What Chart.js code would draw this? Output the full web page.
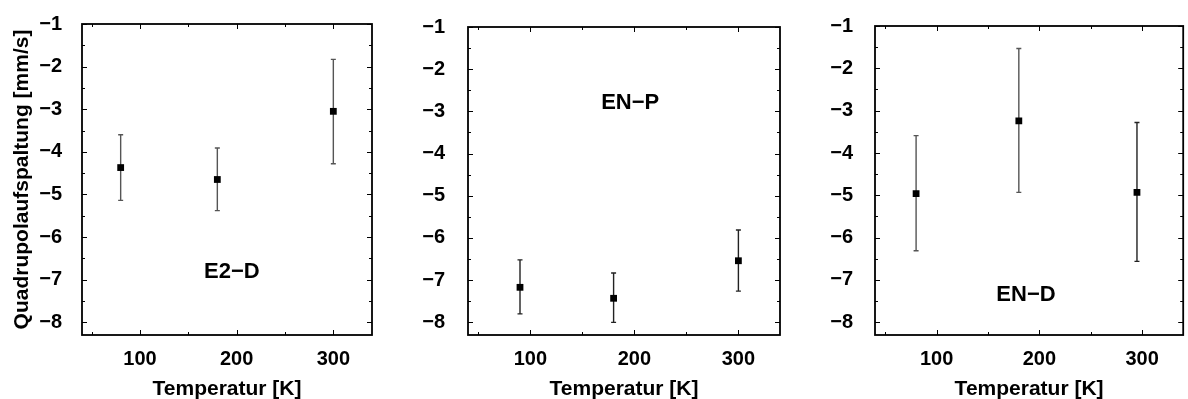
<!DOCTYPE html>
<html>
<head>
<meta charset="utf-8">
<title>Quadrupolaufspaltung</title>
<script src="https://cdn.jsdelivr.net/npm/chart.js@4.4.0/dist/chart.umd.min.js"></script>
<style>
  body { margin: 0; background: #fff; width: 1188px; height: 399px; position: relative; overflow: hidden; }
  .panel { position: absolute; top: 0; height: 399px; }
</style>
</head>
<body>
<div class="panel" style="left:0;width:380px"><canvas id="c1"></canvas></div>
<div class="panel" style="left:390px;width:398px"><canvas id="c2"></canvas></div>
<div class="panel" style="left:790px;width:398px"><canvas id="c3"></canvas></div>

<script>
// --- data (T in K, quadrupole splitting in mm/s)
const tempE2D  = [80, 180, 300];
const qsE2D    = [-4.37, -4.65, -3.05];
const hiE2D    = [-3.60, -3.91, -1.83];
const loE2D    = [-5.14, -5.38, -4.28];

const tempENP  = [90, 180, 300];
const qsENP    = [-7.17, -7.43, -6.54];
const hiENP    = [-6.52, -6.83, -5.81];
const loENP    = [-7.80, -8.00, -7.26];

const tempEND  = [80, 180, 295];
const qsEND    = [-4.96, -3.24, -4.93];
const hiEND    = [-3.59, -1.53, -3.28];
const loEND    = [-6.31, -4.93, -6.56];

const xTicks   = [100, 200, 300];
const xMinor   = [50, 150, 250];
const yTicks   = [-8, -7, -6, -5, -4, -3, -2, -1];
const yMinor   = [-7.5, -6.5, -5.5, -4.5, -3.5, -2.5, -1.5];

const FONT = '"Liberation Sans", Arial, Helvetica, sans-serif';

// frame, inward ticks, error bars and the sample label
const framePlugin = {
  id: 'frame',
  beforeDatasetsDraw(chart, args, o) {
    const ctx = chart.ctx, xs = chart.scales.x, ys = chart.scales.y;
    ctx.save();
    ctx.lineWidth = 1.4;
    o.x.forEach((xv, i) => {
      const px = xs.getPixelForValue(xv);
      const top = ys.getPixelForValue(o.hi[i]);
      const bot = ys.getPixelForValue(o.lo[i]);
      ctx.strokeStyle = o.errColor[i];
      ctx.beginPath();
      ctx.moveTo(px, top); ctx.lineTo(px, bot);
      ctx.moveTo(px - 2.5, top); ctx.lineTo(px + 2.5, top);
      ctx.moveTo(px - 2.5, bot); ctx.lineTo(px + 2.5, bot);
      ctx.stroke();
    });
    ctx.restore();
  },
  afterDatasetsDraw(chart, args, o) {
    const ctx = chart.ctx, a = chart.chartArea, xs = chart.scales.x, ys = chart.scales.y;
    ctx.save();
    ctx.strokeStyle = '#000';
    ctx.lineWidth = 1;
    ctx.beginPath();
    const tickX = (v, len) => {
      const p = Math.round(xs.getPixelForValue(v)) + 0.5;
      ctx.moveTo(p, a.bottom); ctx.lineTo(p, a.bottom - len);
      ctx.moveTo(p, a.top); ctx.lineTo(p, a.top + len);
    };
    const tickY = (v, len) => {
      const p = Math.round(ys.getPixelForValue(v)) + 0.5;
      ctx.moveTo(a.left, p); ctx.lineTo(a.left + len, p);
      ctx.moveTo(a.right, p); ctx.lineTo(a.right - len, p);
    };
    xTicks.forEach(v => tickX(v, 5));
    xMinor.forEach(v => tickX(v, 3));
    yTicks.forEach(v => tickY(v, 5));
    yMinor.forEach(v => tickY(v, 3));
    ctx.stroke();

    ctx.lineWidth = 1.8;
    ctx.strokeRect(a.left, a.top, a.right - a.left, a.bottom - a.top);

    ctx.fillStyle = '#000';
    ctx.font = 'bold 22px ' + FONT;
    ctx.textAlign = 'center';
    ctx.textBaseline = 'middle';
    ctx.fillText(o.label, xs.getPixelForValue(o.labelAt[0]), ys.getPixelForValue(o.labelAt[1]));
    ctx.restore();
  }
};

function makeChart(id, xv, yv, lo, hi, cfg) {
  const tickFont = { family: FONT, size: 20, weight: 'bold', lineHeight: 1.2 };
  const titleFont = { family: FONT, size: 21, weight: 'bold', lineHeight: 0.9 };
  return new Chart(document.getElementById(id), {
    type: 'scatter',
    data: {
      datasets: [{
        data: xv.map((x, i) => ({ x: x, y: yv[i] })),
        backgroundColor: '#000',
        borderWidth: 0,
        pointStyle: 'rect',
        pointRadius: 4.8,
        pointHoverRadius: 4.8
      }]
    },
    options: {
      responsive: true,
      maintainAspectRatio: false,
      animation: false,
      events: [],
      layout: { padding: { top: 22, right: cfg.padRight, bottom: 0, left: 0 } },
      plugins: {
        legend: { display: false },
        tooltip: { enabled: false },
        frame: { x: xv, lo: lo, hi: hi, errColor: cfg.errColor, label: cfg.label, labelAt: cfg.labelAt }
      },
      scales: {
        x: {
          type: 'linear', min: 40, max: 340,
          grid: { display: false },
          border: { display: false },
          afterBuildTicks: s => { s.ticks = xTicks.map(v => ({ value: v })); },
          afterFit: s => { s.height = 64; },
          ticks: { font: tickFont, color: '#000', padding: 4, maxRotation: 0 },
          title: { display: true, text: 'Temperatur [K]', font: titleFont, color: '#000', padding: { top: 0, bottom: 0 } }
        },
        y: {
          type: 'linear', min: -8.3, max: -1,
          grid: { display: false },
          border: { display: false },
          afterBuildTicks: s => { s.ticks = yTicks.map(v => ({ value: v })); },
          afterFit: s => { s.width = cfg.yWidth; },
          ticks: { font: tickFont, color: '#000', padding: cfg.yPad, callback: v => '\u2212' + Math.abs(v) },
          title: { display: cfg.yTitle, text: 'Quadrupolaufspaltung [mm/s]', font: titleFont, color: '#000', padding: { top: 13, bottom: 0 } }
        }
      }
    },
    plugins: [framePlugin]
  });
}

makeChart('c1', tempE2D, qsE2D, loE2D, hiE2D,
  { padRight: 8, yWidth: 82, yPad: 12, yTitle: true, label: 'E2\u2212D', labelAt: [195, -6.83],
    errColor: ['#555', '#555', '#555'] });
makeChart('c2', tempENP, qsENP, loENP, hiENP,
  { padRight: 8, yWidth: 78, yPad: 15, yTitle: false, label: 'EN\u2212P', labelAt: [196, -2.79],
    errColor: ['#222', '#222', '#222'] });
makeChart('c3', tempEND, qsEND, loEND, hiEND,
  { padRight: 1, yWidth: 85, yPad: 14, yTitle: false, label: 'EN\u2212D', labelAt: [187, -7.35],
    errColor: ['#555', '#555', '#222'] });
</script>
</body>
</html>
